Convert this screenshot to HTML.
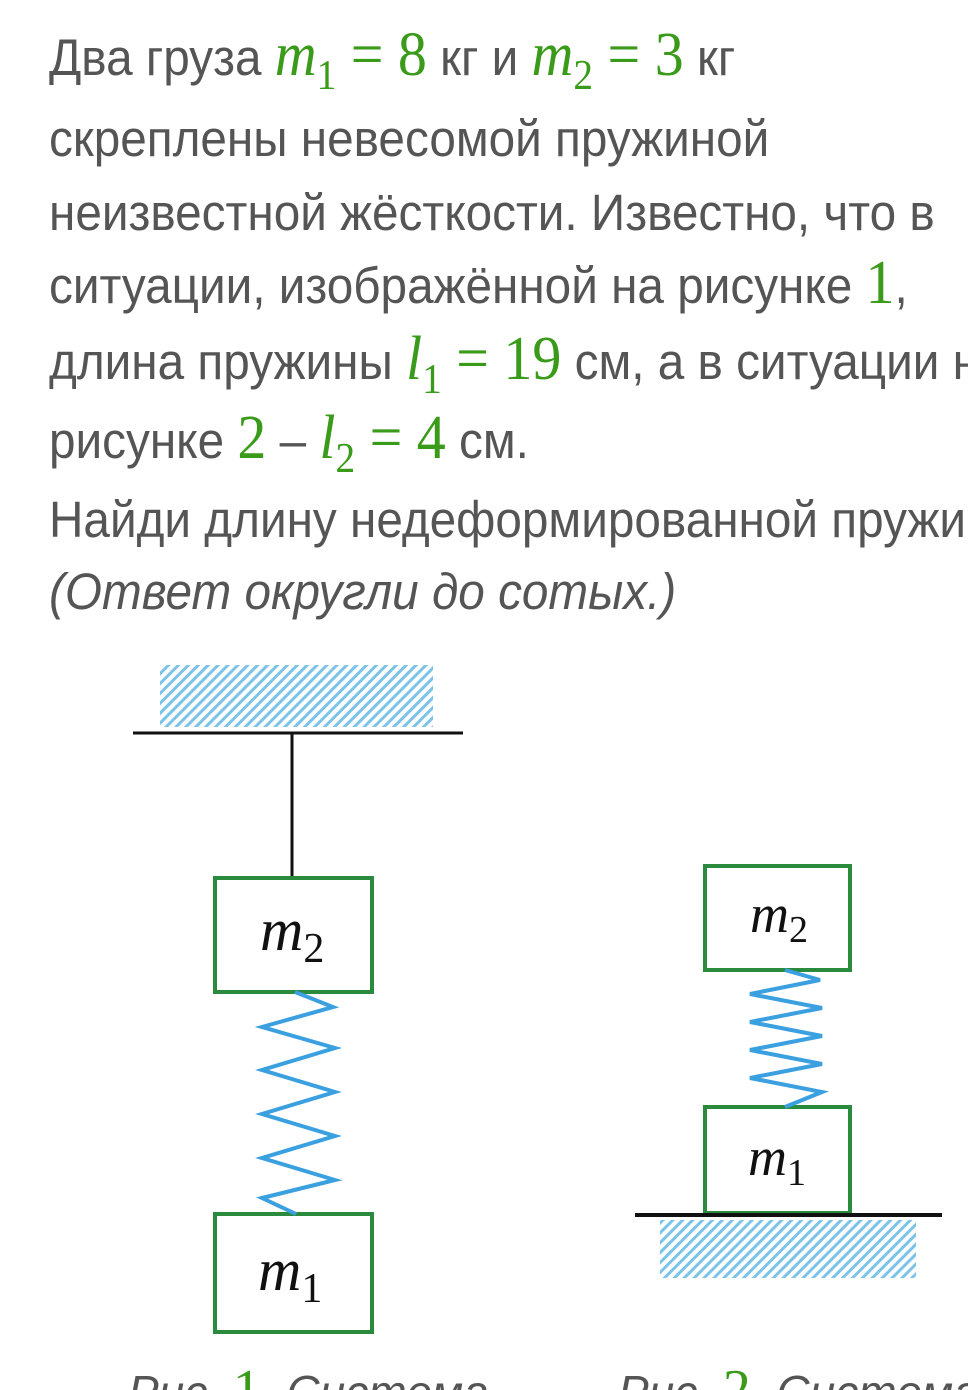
<!DOCTYPE html>
<html><head><meta charset="utf-8"><style>
html,body{margin:0;padding:0;width:968px;height:1390px;overflow:hidden;background:#fff}
.l{position:absolute;left:49px;white-space:nowrap;font-family:"Liberation Sans Narrow","Liberation Sans",sans-serif;font-size:51px;color:#555;transform-origin:0 0;transform:scaleX(0.935)}
.m{font-family:"Liberation Serif",serif;color:#3a9a1a;font-size:62px;line-height:0}
.m i{font-style:italic}
sub{font-size:42px;vertical-align:-14px;line-height:0}
</style></head><body>
<div class="l" style="top:28px">Два груза <span class="m"><i>m</i><sub>1</sub> = 8</span> кг и <span class="m"><i>m</i><sub>2</sub> = 3</span> кг</div>
<div class="l" style="top:109px">скреплены невесомой пружиной</div>
<div class="l" style="top:183px">неизвестной жёсткости. Известно, что в</div>
<div class="l" style="top:256px">ситуации, изображённой на рисунке <span class="m">1</span>,</div>
<div class="l" style="top:332px">длина пружины <span class="m"><i>l</i><sub>1</sub> = 19</span> см, а в ситуации на</div>
<div class="l" style="top:411px">рисунке <span class="m">2</span> – <span class="m"><i>l</i><sub>2</sub> = 4</span> см.</div>
<div class="l" style="top:490px">Найди длину недеформированной пружины.</div>
<div class="l" style="top:562px;font-style:italic">(Ответ округли до сотых.)</div>
<svg width="968" height="1390" style="position:absolute;left:0;top:0">
<defs><pattern id="h" width="7" height="7" patternUnits="userSpaceOnUse" patternTransform="rotate(45)"><rect width="3" height="7" fill="#7cc3ea"/></pattern></defs>
<rect x="160" y="665" width="273" height="62" fill="url(#h)"/>
<line x1="133" y1="733" x2="463" y2="733" stroke="#111" stroke-width="3"/>
<line x1="292" y1="733" x2="292" y2="878" stroke="#111" stroke-width="3"/>
<rect x="215" y="878" width="157" height="114" fill="none" stroke="#2a8a3e" stroke-width="4"/>
<rect x="215" y="1214" width="157" height="118" fill="none" stroke="#2a8a3e" stroke-width="4"/>
<polyline fill="none" stroke="#3aa0e0" stroke-width="4" points="295,992 333,1007 262,1027 335,1048 262,1070 335,1092 262,1114 335,1136 262,1158 335,1180 262,1198 296,1214"/>
<rect x="705" y="866" width="145" height="104" fill="none" stroke="#2a8a3e" stroke-width="4"/>
<rect x="705" y="1107" width="145" height="106" fill="none" stroke="#2a8a3e" stroke-width="4"/>
<polyline fill="none" stroke="#3aa0e0" stroke-width="4" points="785,970 820,980 750,994 822,1008 750,1022 822,1036 750,1050 822,1064 750,1078 822,1092 785,1107"/>
<line x1="635" y1="1215" x2="942" y2="1215" stroke="#111" stroke-width="4"/>
<rect x="660" y="1220" width="256" height="58" fill="url(#h)"/>
<g font-family="Liberation Serif,serif" font-style="italic" fill="#111">
<text x="260" y="950" font-size="60">m<tspan font-style="normal" font-size="42" dy="12">2</tspan></text>
<text x="258" y="1290" font-size="60">m<tspan font-style="normal" font-size="42" dy="12">1</tspan></text>
<text x="750" y="932" font-size="54">m<tspan font-style="normal" font-size="38" dy="10">2</tspan></text>
<text x="748" y="1175" font-size="54">m<tspan font-style="normal" font-size="38" dy="10">1</tspan></text>
</g>
<g font-family="Liberation Sans Narrow,Liberation Sans,sans-serif" font-style="italic" font-size="46" fill="#555">
<text x="128" y="1408">Рис. <tspan fill="#3a9a1a" font-family="Liberation Serif,serif" font-style="normal" font-size="56">1</tspan>. Система</text>
<text x="618" y="1408">Рис. <tspan fill="#3a9a1a" font-family="Liberation Serif,serif" font-style="normal" font-size="56">2</tspan>. Система</text>
</g>
</svg>
</body></html>
